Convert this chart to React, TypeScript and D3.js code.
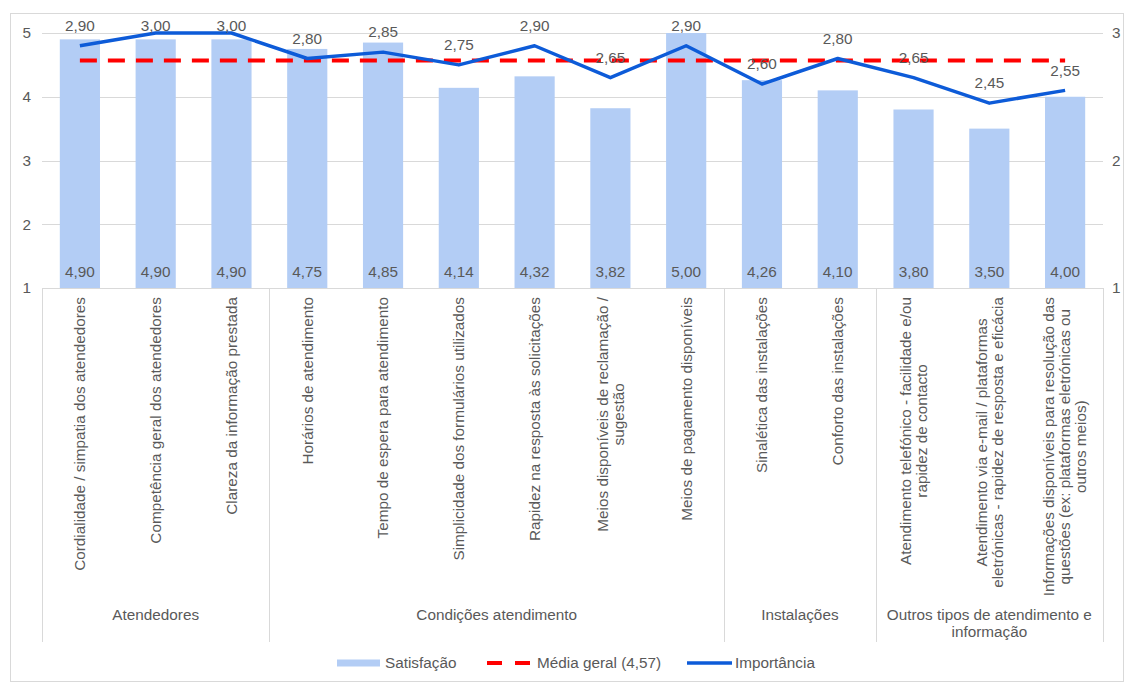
import React, { useEffect, useRef } from "react";
import * as d3 from "d3";

const categories: string[][] = [
  ["Cordialidade / simpatia dos atendedores"],
  ["Competência geral dos atendedores"],
  ["Clareza da informação prestada"],
  ["Horários de atendimento"],
  ["Tempo de espera para atendimento"],
  ["Simplicidade dos formulários utilizados"],
  ["Rapidez na resposta às solicitações"],
  ["Meios disponíveis de reclamação /", "sugestão"],
  ["Meios de pagamento disponíveis"],
  ["Sinalética das instalações"],
  ["Conforto das instalações"],
  ["Atendimento telefónico - facilidade e/ou", "rapidez de contacto"],
  ["Atendimento via e-mail / plataformas", "eletrónicas - rapidez de resposta e eficácia"],
  ["Informações disponíveis para resolução das", "questões (ex: plataformas eletrónicas ou", "outros meios)"],
];

const groups: { label: string[]; start: number; end: number }[] = [
  { label: ["Atendedores"], start: 0, end: 3 },
  { label: ["Condições atendimento"], start: 3, end: 9 },
  { label: ["Instalações"], start: 9, end: 11 },
  { label: ["Outros tipos de atendimento e", "informação"], start: 11, end: 14 },
];

const satisfacao = [4.9, 4.9, 4.9, 4.75, 4.85, 4.14, 4.32, 3.82, 5.0, 4.26, 4.1, 3.8, 3.5, 4.0];
const importancia = [2.9, 3.0, 3.0, 2.8, 2.85, 2.75, 2.9, 2.65, 2.9, 2.6, 2.8, 2.65, 2.45, 2.55];
const mediaGeral = 4.57;
const leftTicks = [1, 2, 3, 4, 5];
const rightTicks = [1, 2, 3];
const legendLabels = ["Satisfação", "Média geral (4,57)", "Importância"];

const FONT = "'Liberation Sans', Arial, sans-serif";
const FS = 15.3;
const TEXT = "#595959";
const BAR = "#b3cdf5";
const BLUE = "#0d5bd8";
const RED = "#ff0000";
const GRID = "#d9d9d9";

const fmt = (v: number) => v.toFixed(2).replace(".", ",");

export default function App() {
  const ref = useRef<SVGSVGElement | null>(null);

  useEffect(() => {
    const svg = d3.select(ref.current);
    svg.selectAll("*").remove();

    const L = 42, R = 1103, T = 33, B = 288;
    const x = d3.scaleBand<number>().domain(d3.range(categories.length)).range([L, R]).paddingInner(0).paddingOuter(0);
    const bw = x.bandwidth() * 0.53;
    const cx = (i: number) => (x(i) as number) + x.bandwidth() / 2;
    const yL = d3.scaleLinear().domain([1, 5]).range([B, T]);
    const yR = d3.scaleLinear().domain([1, 3]).range([B, T]);

    // outer border
    svg.append("rect").attr("x", 10.5).attr("y", 13.5).attr("width", 1113).attr("height", 668)
      .attr("fill", "#fff").attr("stroke", GRID).attr("stroke-width", 1);

    // gridlines
    svg.append("g").selectAll("line").data(leftTicks).join("line")
      .attr("x1", L).attr("x2", R)
      .attr("y1", (d) => Math.round(yL(d)) + 0.5).attr("y2", (d) => Math.round(yL(d)) + 0.5)
      .attr("stroke", GRID).attr("stroke-width", 1);

    // left tick labels
    svg.append("g").selectAll("text").data(leftTicks).join("text")
      .attr("x", 31).attr("y", (d) => yL(d)).attr("dy", "0.35em")
      .attr("text-anchor", "end").attr("font-family", FONT).attr("font-size", FS).attr("fill", TEXT)
      .text((d) => String(d));

    // right tick labels
    svg.append("g").selectAll("text").data(rightTicks).join("text")
      .attr("x", 1112).attr("y", (d) => yR(d)).attr("dy", "0.35em")
      .attr("text-anchor", "start").attr("font-family", FONT).attr("font-size", FS).attr("fill", TEXT)
      .text((d) => String(d));

    // bars
    svg.append("g").selectAll("rect").data(satisfacao).join("rect")
      .attr("x", (_, i) => cx(i) - bw / 2).attr("width", bw)
      .attr("y", (d) => yL(d)).attr("height", (d) => yL(1) - yL(d))
      .attr("fill", BAR);

    // axis line
    svg.append("line").attr("x1", L).attr("x2", R).attr("y1", B + 0.5).attr("y2", B + 0.5)
      .attr("stroke", GRID).attr("stroke-width", 1);

    // group separators
    const seps = [0, ...groups.map((g) => g.end)];
    svg.append("g").selectAll("line").data(seps).join("line")
      .attr("x1", (d) => Math.round(L + d * x.step()) + 0.5).attr("x2", (d) => Math.round(L + d * x.step()) + 0.5)
      .attr("y1", B).attr("y2", 642)
      .attr("stroke", GRID).attr("stroke-width", 1);

    // satisfaction labels
    svg.append("g").selectAll("text").data(satisfacao).join("text")
      .attr("x", (_, i) => cx(i)).attr("y", 272).attr("dy", "0.35em")
      .attr("text-anchor", "middle").attr("font-family", FONT).attr("font-size", FS).attr("fill", TEXT)
      .text((d) => fmt(d));

    // media geral line
    svg.append("line")
      .attr("x1", cx(0)).attr("x2", cx(categories.length - 1))
      .attr("y1", yL(mediaGeral)).attr("y2", yL(mediaGeral))
      .attr("stroke", RED).attr("stroke-width", 4).attr("stroke-dasharray", "17 11");

    // importance line
    const line = d3.line<number>().x((_, i) => cx(i)).y((d) => yR(d));
    svg.append("path").datum(importancia).attr("d", line)
      .attr("fill", "none").attr("stroke", BLUE).attr("stroke-width", 3.5).attr("stroke-linejoin", "round");

    // importance labels
    svg.append("g").selectAll("text").data(importancia).join("text")
      .attr("x", (_, i) => cx(i)).attr("y", (d) => Math.max(26, yR(d) - 20)).attr("dy", "0.35em")
      .attr("text-anchor", "middle").attr("font-family", FONT).attr("font-size", FS).attr("fill", TEXT)
      .text((d) => fmt(d));

    // category labels (rotated)
    const catG = svg.append("g");
    categories.forEach((lines, i) => {
      const g = catG.append("g");
      const texts = lines.map((ln, k) =>
        g.append("text").attr("font-family", FONT).attr("font-size", FS).attr("fill", TEXT)
          .attr("text-anchor", "middle").attr("dy", "0.35em")
          .attr("x", 0).attr("y", (k - (lines.length - 1) / 2) * 16)
          .text(ln)
      );
      const maxLen = d3.max(texts, (t) => (t.node() as SVGTextElement).getComputedTextLength()) || 0;
      g.attr("transform", `translate(${cx(i)},${297 + maxLen / 2}) rotate(-90)`);
    });

    // group labels
    const grpG = svg.append("g");
    groups.forEach((g) => {
      const gx = L + ((g.start + g.end) / 2) * x.step();
      g.label.forEach((ln, k) => {
        grpG.append("text").attr("x", gx).attr("y", 615 + k * 17).attr("dy", "0.35em")
          .attr("text-anchor", "middle").attr("font-family", FONT).attr("font-size", FS).attr("fill", TEXT)
          .text(ln);
      });
    });

    // legend
    const ly = 663;
    const leg = svg.append("g");
    leg.append("rect").attr("x", 337).attr("y", ly - 3.5).attr("width", 43).attr("height", 7).attr("fill", BAR);
    leg.append("text").attr("x", 385).attr("y", ly).attr("dy", "0.35em").attr("font-family", FONT)
      .attr("font-size", FS).attr("fill", TEXT).text(legendLabels[0]);
    leg.append("line").attr("x1", 487).attr("x2", 530).attr("y1", ly).attr("y2", ly)
      .attr("stroke", RED).attr("stroke-width", 4).attr("stroke-dasharray", "15 13");
    leg.append("text").attr("x", 537).attr("y", ly).attr("dy", "0.35em").attr("font-family", FONT)
      .attr("font-size", FS).attr("fill", TEXT).text(legendLabels[1]);
    leg.append("line").attr("x1", 687).attr("x2", 732).attr("y1", ly).attr("y2", ly)
      .attr("stroke", BLUE).attr("stroke-width", 3.5);
    leg.append("text").attr("x", 735).attr("y", ly).attr("dy", "0.35em").attr("font-family", FONT)
      .attr("font-size", FS).attr("fill", TEXT).text(legendLabels[2]);
  }, []);

  return (
    <svg ref={ref} width={1126} height={684}
      style={{ position: "absolute", left: 0, top: 0, background: "#fff" }} />
  );
}
